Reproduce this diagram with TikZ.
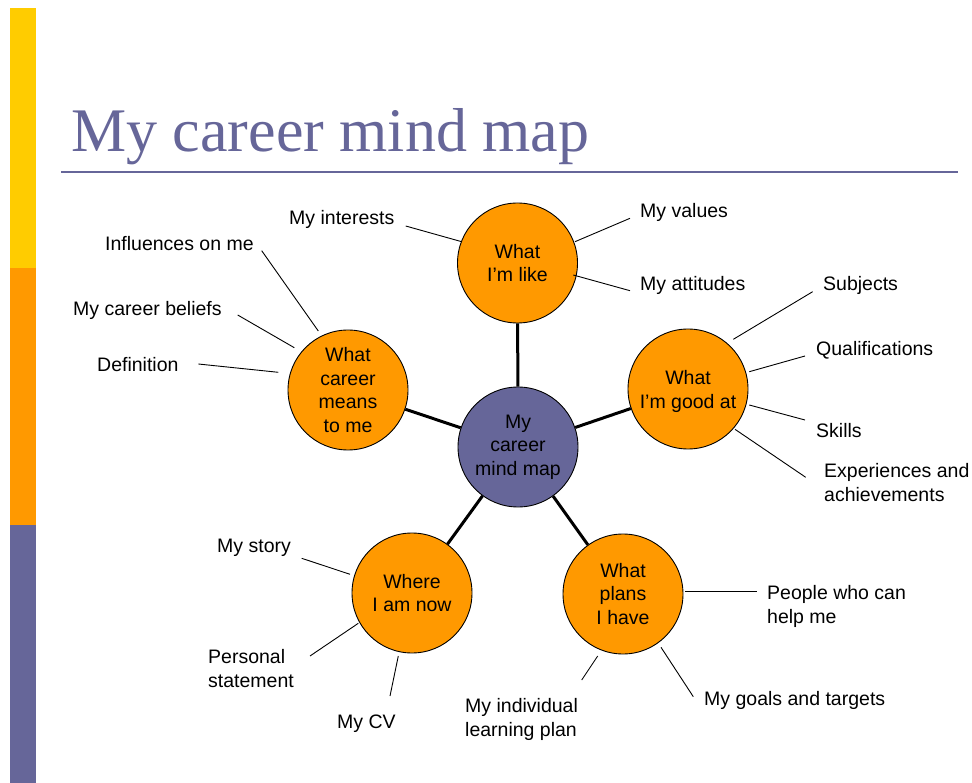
\documentclass[tikz,border=0pt]{standalone}
\usepackage{fontspec}
\setmainfont{Liberation Sans}
\newfontfamily\titlefont{Liberation Serif}
\definecolor{barYellow}{HTML}{FFCC00}
\definecolor{barOrange}{HTML}{FF9900}
\definecolor{slate}{HTML}{666699}
\begin{document}
\begin{tikzpicture}[x=1pt,y=-1pt,
  topic/.style={circle,draw=black,line width=0.9pt,fill=barOrange,minimum size=120pt,inner sep=0pt,align=center,font=\fontsize{19.5}{23.4}\selectfont},
  hubnode/.style={topic,fill=slate},
  lbl/.style={inner sep=0pt,anchor=base west,align=left,font=\fontsize{19.5}{23.4}\selectfont},
  spoke/.style={line width=3pt,black},
  twig/.style={line width=0.9pt,black}]
\useasboundingbox (0,0) rectangle (972,783);
\fill[white] (0,0) rectangle (972,783);

% side bar
\fill[barYellow] (10,8) rectangle (36,268);
\fill[barOrange] (10,268) rectangle (36,525);
\fill[slate] (10,525) rectangle (36,783);

% title and rule
\node[inner sep=0pt,anchor=base west,text=slate,font=\titlefont\fontsize{62}{70}\selectfont] (title) at (71,152) {My career mind map};
\coordinate (ruleL) at (61,172);
\coordinate (ruleR) at (958,172);
\draw[slate,line width=2pt] (ruleL) -- (ruleR);

% circles
\node[hubnode] (hub) at (518,447) {My\\career\\mind map};
\node[topic] (like) at (517.5,263) {What\\I’m like};
\node[topic] (career) at (348,390) {What\\career\\means\\to me};
\node[topic] (good) at (688,389) {\raisebox{-3pt}[\height][\depth]{\begin{tabular}{@{}c@{}}What\\I’m good at\end{tabular}}};
\node[topic] (now) at (412,593) {Where\\I am now};
\node[topic] (plans) at (623,594) {What\\plans\\I have};

% spokes
\foreach \t in {like,career,good,now,plans}
  \draw[spoke] (hub) -- (\t);

% labels (base west = baseline of the last line)
\node[lbl] (interests) at (289,225) {My interests};
\node[lbl] (values) at (640,218) {My values};
\node[lbl] (attitudes) at (640,291) {My attitudes};
\node[lbl] (influences) at (105,251) {Influences on me};
\node[lbl] (beliefs) at (73,316) {My career beliefs};
\node[lbl] (definition) at (97,372) {Definition};
\node[lbl] (subjects) at (823,291) {Subjects};
\node[lbl] (quals) at (816,356) {Qualifications};
\node[lbl] (skills) at (816,437) {Skills};
\node[lbl] (experiences) at (824,501) {Experiences and\\achievements};
\node[lbl] (story) at (217,552) {My story};
\node[lbl] (personal) at (208,687) {Personal\\statement};
\node[lbl] (cv) at (337,728) {My CV};
\node[lbl] (people) at (767,623) {People who can\\help me};
\node[lbl] (ilp) at (465,736) {My individual\\learning plan};
\node[lbl] (goals) at (704,705) {My goals and targets};

% twig end points
\coordinate (interestsA) at (461.7,241.7); \coordinate (interestsB) at (405.7,226);
\coordinate (valuesA) at (575,241.7);      \coordinate (valuesB) at (630,218.3);
\coordinate (attitudesA) at (573.3,275);   \coordinate (attitudesB) at (630,290.7);
\coordinate (influencesA) at (318.3,331);  \coordinate (influencesB) at (261.7,250.7);
\coordinate (beliefsA) at (294.3,347.7);   \coordinate (beliefsB) at (237.7,315);
\coordinate (definitionA) at (278.3,372.3);\coordinate (definitionB) at (198.3,364);
\coordinate (subjectsA) at (733.3,339.3);  \coordinate (subjectsB) at (812.7,291.7);
\coordinate (qualsA) at (749.3,371.7);     \coordinate (qualsB) at (805,356);
\coordinate (skillsA) at (749.3,405);      \coordinate (skillsB) at (805,420);
\coordinate (experiencesA) at (735,429.3); \coordinate (experiencesB) at (805.7,477.3);
\coordinate (storyA) at (350,574.3);       \coordinate (storyB) at (301.7,558.3);
\coordinate (personalA) at (358.3,623.3);  \coordinate (personalB) at (310,656);
\coordinate (cvA) at (398.3,656);          \coordinate (cvB) at (390,696);
\coordinate (peopleA) at (685,591);        \coordinate (peopleB) at (757.3,591);
\coordinate (ilpA) at (597.7,656);         \coordinate (ilpB) at (581.7,680);
\coordinate (goalsA) at (661,647.3);       \coordinate (goalsB) at (693.3,696.7);

\foreach \t in {interests,values,attitudes,influences,beliefs,definition,subjects,quals,skills,experiences,story,personal,cv,people,ilp,goals}
  \draw[twig] (\t A) -- (\t B);
\end{tikzpicture}
\end{document}
